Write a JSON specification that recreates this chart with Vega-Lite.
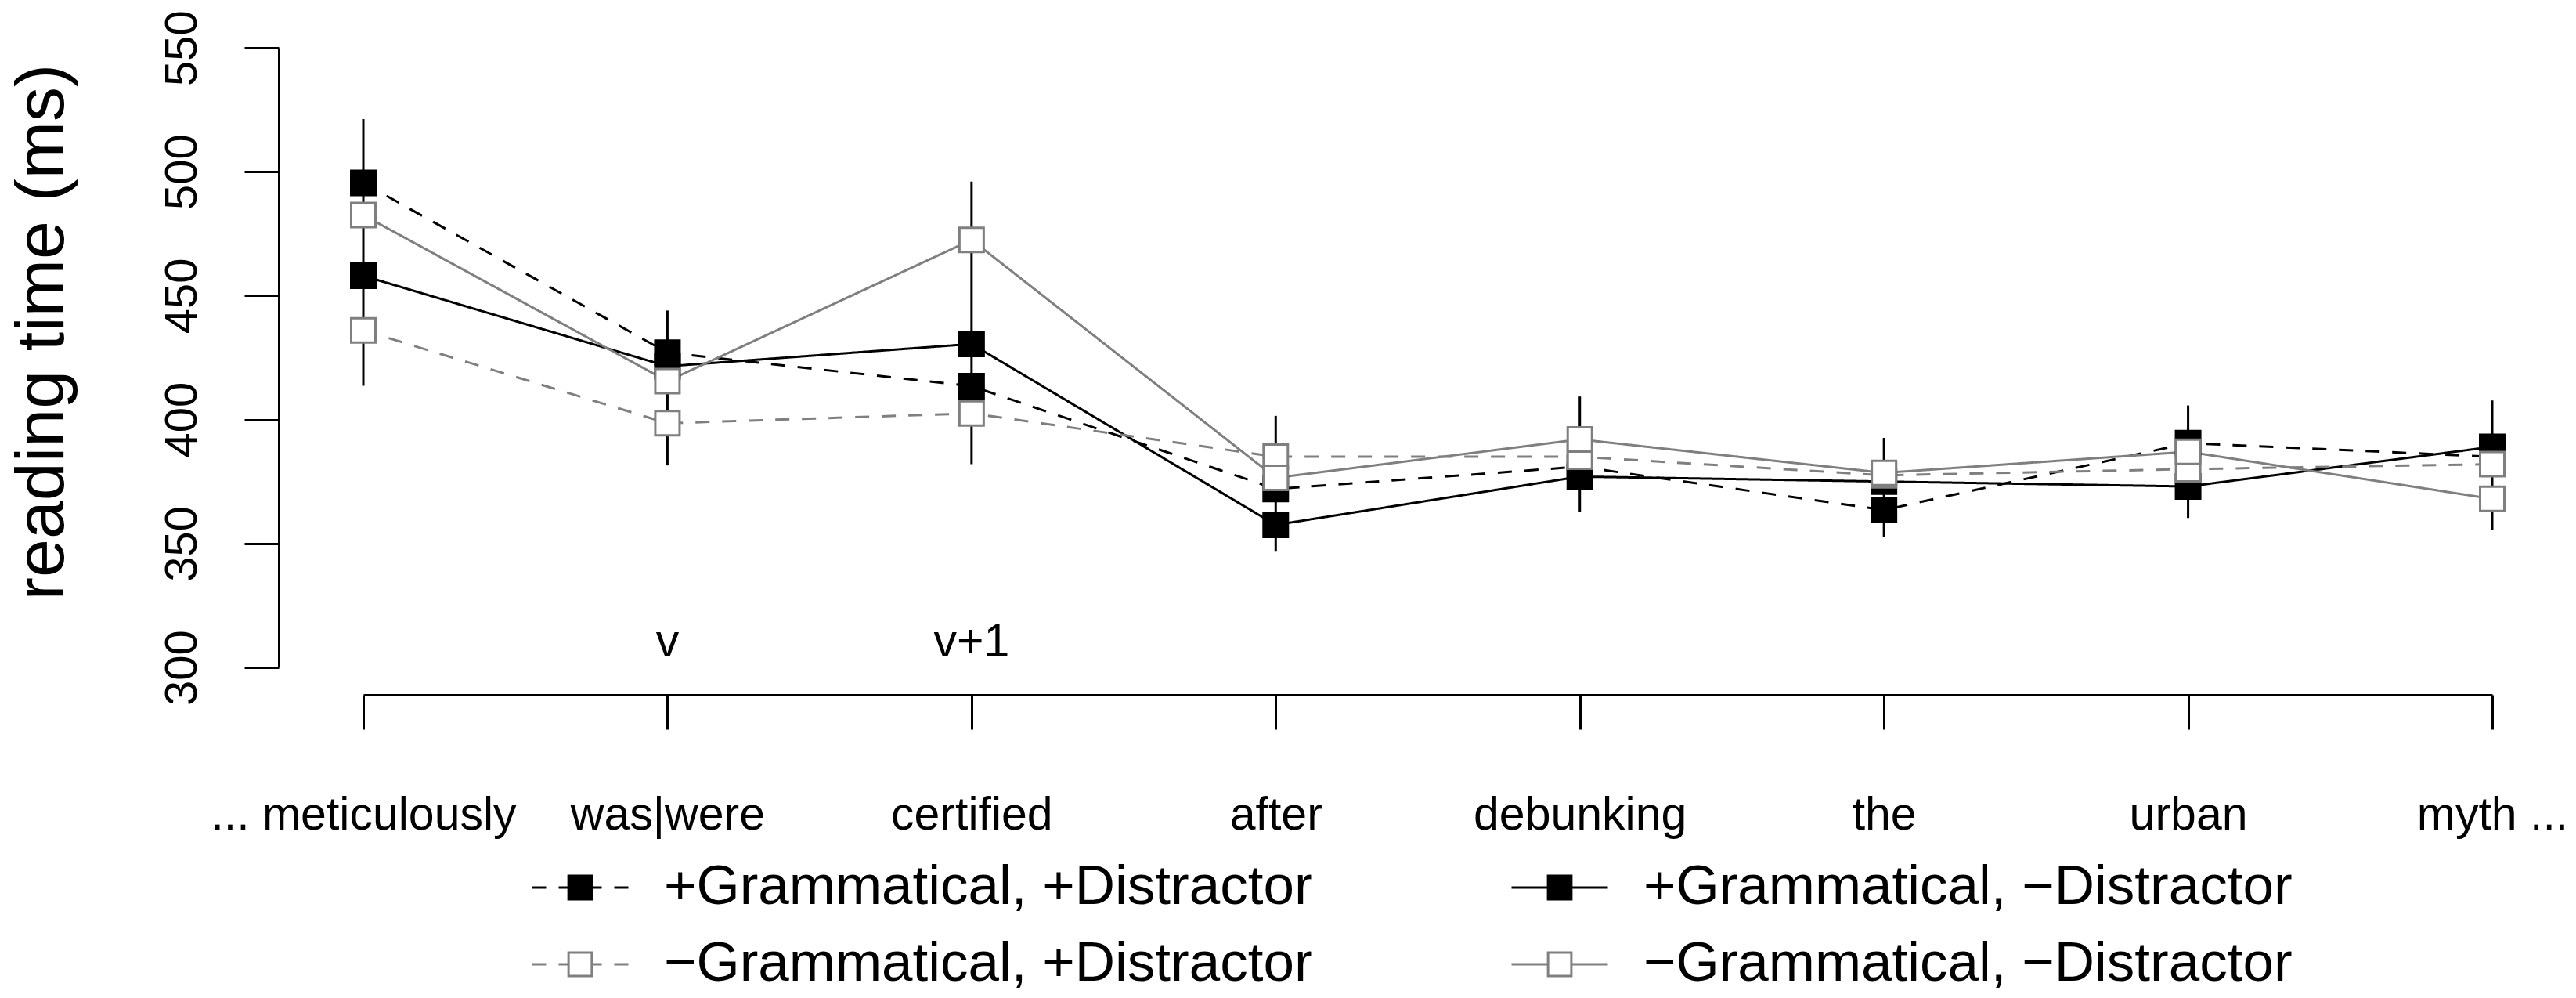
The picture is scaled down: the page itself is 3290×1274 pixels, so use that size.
{
  "$schema": "https://vega.github.io/schema/vega-lite/v6.json",
  "width": 2719,
  "height": 791,
  "autosize": "none",
  "padding": {"left": 464, "top": 61, "right": 107, "bottom": 422},
  "background": "white",
  "datasets": {
    "means": [
      {"word": "... meticulously", "cond": "+Grammatical, +Distractor", "rt": 495.5},
      {"word": "was|were", "cond": "+Grammatical, +Distractor", "rt": 427},
      {"word": "certified", "cond": "+Grammatical, +Distractor", "rt": 413.5},
      {"word": "after", "cond": "+Grammatical, +Distractor", "rt": 372},
      {"word": "debunking", "cond": "+Grammatical, +Distractor", "rt": 381},
      {"word": "the", "cond": "+Grammatical, +Distractor", "rt": 363.5},
      {"word": "urban", "cond": "+Grammatical, +Distractor", "rt": 390.5},
      {"word": "myth ...", "cond": "+Grammatical, +Distractor", "rt": 385},
      {"word": "... meticulously", "cond": "+Grammatical, −Distractor", "rt": 458},
      {"word": "was|were", "cond": "+Grammatical, −Distractor", "rt": 421.5},
      {"word": "certified", "cond": "+Grammatical, −Distractor", "rt": 430.5},
      {"word": "after", "cond": "+Grammatical, −Distractor", "rt": 357.5},
      {"word": "debunking", "cond": "+Grammatical, −Distractor", "rt": 377},
      {"word": "the", "cond": "+Grammatical, −Distractor", "rt": 375},
      {"word": "urban", "cond": "+Grammatical, −Distractor", "rt": 373},
      {"word": "myth ...", "cond": "+Grammatical, −Distractor", "rt": 389},
      {"word": "... meticulously", "cond": "−Grammatical, +Distractor", "rt": 436},
      {"word": "was|were", "cond": "−Grammatical, +Distractor", "rt": 398.5},
      {"word": "certified", "cond": "−Grammatical, +Distractor", "rt": 402.5},
      {"word": "after", "cond": "−Grammatical, +Distractor", "rt": 385},
      {"word": "debunking", "cond": "−Grammatical, +Distractor", "rt": 385},
      {"word": "the", "cond": "−Grammatical, +Distractor", "rt": 377.5},
      {"word": "urban", "cond": "−Grammatical, +Distractor", "rt": 380},
      {"word": "myth ...", "cond": "−Grammatical, +Distractor", "rt": 382},
      {"word": "... meticulously", "cond": "−Grammatical, −Distractor", "rt": 482.5},
      {"word": "was|were", "cond": "−Grammatical, −Distractor", "rt": 415.5},
      {"word": "certified", "cond": "−Grammatical, −Distractor", "rt": 472.5},
      {"word": "after", "cond": "−Grammatical, −Distractor", "rt": 376.5},
      {"word": "debunking", "cond": "−Grammatical, −Distractor", "rt": 392},
      {"word": "the", "cond": "−Grammatical, −Distractor", "rt": 378.5},
      {"word": "urban", "cond": "−Grammatical, −Distractor", "rt": 387},
      {"word": "myth ...", "cond": "−Grammatical, −Distractor", "rt": 368}
    ],
    "bars": [
      {"word": "... meticulously", "lo": 413.6, "hi": 521.2},
      {"word": "was|were", "lo": 381.5, "hi": 444},
      {"word": "certified", "lo": 382, "hi": 496},
      {"word": "after", "lo": 346.7, "hi": 401.5},
      {"word": "debunking", "lo": 362.9, "hi": 409.3},
      {"word": "the", "lo": 352.5, "hi": 392.6},
      {"word": "urban", "lo": 360.3, "hi": 405.7},
      {"word": "myth ...", "lo": 355.6, "hi": 407.7}
    ],
    "notes": [
      {"word": "was|were", "label": "v", "pos": 304.4},
      {"word": "certified", "label": "v+1", "pos": 304.4}
    ]
  },
  "layer": [
    {
      "data": {"name": "means"},
      "mark": {"type": "line", "strokeWidth": 3},
      "encoding": {
        "x": {
          "field": "word", "type": "nominal", "sort": null, "title": null,
          "scale": {"type": "point", "domain": ["... meticulously", "was|were", "certified", "after", "debunking", "the", "urban", "myth ..."], "padding": 0}
        },
        "y": {
          "field": "rt", "type": "quantitative", "title": "reading time (ms)",
          "scale": {"domain": [300, 550], "nice": false, "zero": false}
        },
        "stroke": {
          "field": "cond", "type": "nominal",
          "scale": {
            "domain": ["+Grammatical, +Distractor", "+Grammatical, −Distractor", "−Grammatical, +Distractor", "−Grammatical, −Distractor"],
            "range": ["black", "black", "#7f7f7f", "#7f7f7f"]
          }
        },
        "strokeDash": {
          "field": "cond", "type": "nominal",
          "scale": {
            "domain": ["+Grammatical, +Distractor", "+Grammatical, −Distractor", "−Grammatical, +Distractor", "−Grammatical, −Distractor"],
            "range": [[18, 16], [1, 0], [18, 16], [1, 0]]
          }
        }
      }
    },
    {
      "data": {"name": "bars"},
      "mark": {"type": "rule", "strokeWidth": 3, "color": "black"},
      "encoding": {
        "x": {
          "field": "word", "type": "nominal", "sort": null, "title": null,
          "scale": {"type": "point", "domain": ["... meticulously", "was|were", "certified", "after", "debunking", "the", "urban", "myth ..."], "padding": 0}
        },
        "y": {
          "field": "lo", "type": "quantitative", "title": "reading time (ms)",
          "scale": {"domain": [300, 550], "nice": false, "zero": false}
        },
        "y2": {"field": "hi"}
      }
    },
    {
      "data": {"name": "means"},
      "mark": {"type": "square", "size": 961, "strokeWidth": 3, "opacity": 1},
      "encoding": {
        "x": {
          "field": "word", "type": "nominal", "sort": null, "title": null,
          "scale": {"type": "point", "domain": ["... meticulously", "was|were", "certified", "after", "debunking", "the", "urban", "myth ..."], "padding": 0}
        },
        "y": {
          "field": "rt", "type": "quantitative", "title": "reading time (ms)",
          "scale": {"domain": [300, 550], "nice": false, "zero": false}
        },
        "stroke": {
          "field": "cond", "type": "nominal",
          "scale": {
            "domain": ["+Grammatical, +Distractor", "+Grammatical, −Distractor", "−Grammatical, +Distractor", "−Grammatical, −Distractor"],
            "range": ["black", "black", "#7f7f7f", "#7f7f7f"]
          }
        },
        "fill": {
          "field": "cond", "type": "nominal",
          "scale": {
            "domain": ["+Grammatical, +Distractor", "+Grammatical, −Distractor", "−Grammatical, +Distractor", "−Grammatical, −Distractor"],
            "range": ["black", "black", "white", "white"]
          },
          "legend": {
            "title": null,
            "orient": "none",
            "direction": "horizontal",
            "legendX": 214,
            "legendY": 1009,
            "columns": 2,
            "columnPadding": 247,
            "rowPadding": -2,
            "padding": 0,
            "symbolSize": 15129,
            "symbolType": "M-1,0H-0.2419M1,0H0.2419M-0.2419,-0.2419H0.2419V0.2419H-0.2419V-0.2419H0.2419V0.2419H-0.2419V-0.2419",
            "symbolStrokeWidth": 3,
            "symbolOpacity": 1,
            "labelFont": "Liberation Sans",
            "labelFontSize": 71,
            "labelColor": "black",
            "labelOffset": 44,
            "labelLimit": 0,
            "labelBaseline": "middle"
          }
        }
      }
    },
    {
      "data": {"name": "notes"},
      "mark": {"type": "text", "fontSize": 59, "align": "center", "baseline": "alphabetic", "color": "black"},
      "encoding": {
        "x": {
          "field": "word", "type": "nominal", "sort": null, "title": null,
          "scale": {"type": "point", "domain": ["... meticulously", "was|were", "certified", "after", "debunking", "the", "urban", "myth ..."], "padding": 0}
        },
        "y": {
          "field": "pos", "type": "quantitative", "title": "reading time (ms)",
          "scale": {"domain": [300, 550], "nice": false, "zero": false}
        },
        "text": {"field": "label"}
      }
    }
  ],
  "config": {
    "font": "Liberation Sans",
    "view": {"stroke": null},
    "axis": {
      "grid": false,
      "domainColor": "black",
      "tickColor": "black",
      "labelColor": "black",
      "titleColor": "black",
      "domainWidth": 3,
      "tickWidth": 3,
      "tickSize": 44,
      "labelFont": "Liberation Sans",
      "titleFont": "Liberation Sans",
      "titleFontWeight": "normal",
      "labelOverlap": false,
      "labelFlush": false,
      "labelLimit": 0
    },
    "axisX": {
      "offset": 35,
      "labelAngle": 0,
      "labelFontSize": 59,
      "labelPadding": 127,
      "labelBaseline": "alphabetic",
      "labelAlign": "center"
    },
    "axisY": {
      "offset": 108,
      "tickCount": 6,
      "labelAngle": 270,
      "labelAlign": "center",
      "labelBaseline": "alphabetic",
      "labelFontSize": 58,
      "labelPadding": 62,
      "titleFontSize": 88,
      "titleAngle": 270,
      "titleAlign": "center",
      "titleBaseline": "alphabetic",
      "titleX": -276,
      "titleY": 362.5
    }
  }
}
